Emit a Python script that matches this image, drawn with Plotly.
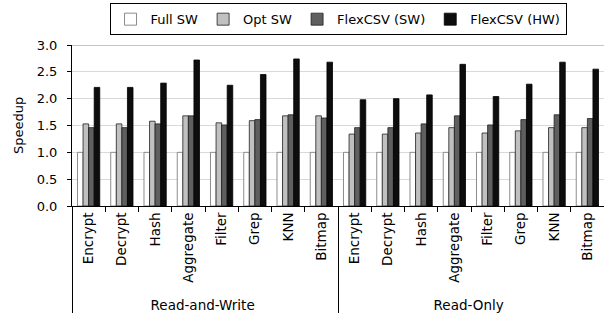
import plotly.graph_objects as go

groups = ["Read-and-Write"] * 8 + ["Read-Only"] * 8
apps = ["Encrypt", "Decrypt", "Hash", "Aggregate", "Filter", "Grep", "KNN", "Bitmap"] * 2

full_sw = [1.0] * 16
opt_sw = [1.53, 1.53, 1.58, 1.68, 1.55, 1.59, 1.68, 1.68,
          1.34, 1.34, 1.36, 1.46, 1.36, 1.40, 1.46, 1.46]
flex_sw = [1.46, 1.46, 1.53, 1.68, 1.51, 1.61, 1.70, 1.64,
           1.46, 1.46, 1.53, 1.68, 1.51, 1.61, 1.70, 1.63]
flex_hw = [2.21, 2.21, 2.29, 2.72, 2.25, 2.45, 2.74, 2.68,
           1.98, 2.00, 2.07, 2.64, 2.04, 2.27, 2.68, 2.55]

series = [("Full SW", full_sw, "#ffffff", "#707070"),
          ("Opt SW", opt_sw, "#c0c0c0", "#202020"),
          ("FlexCSV (SW)", flex_sw, "#5f5f5f", "#202020"),
          ("FlexCSV (HW)", flex_hw, "#0d0d0d", "#000000")]

font = "DejaVu Sans"
fig = go.Figure()
for name, vals, col, lc in series:
    fig.add_trace(go.Bar(x=[groups, apps], y=vals, name=name,
                         marker=dict(color=col, line=dict(color=lc, width=0.8))))

fig.update_layout(
    width=604, height=321,
    margin=dict(l=72, r=0, t=45, b=115, autoexpand=False),
    paper_bgcolor="white", plot_bgcolor="white",
    barmode="group", bargap=0.33, bargroupgap=0.0,
    font=dict(family=font, size=13, color="#000000"),
    legend=dict(orientation="h", x=0.5, xref="paper", xanchor="center",
                y=0.99, yref="container", yanchor="top",
                bordercolor="#000000", borderwidth=1, bgcolor="white",
                font=dict(size=13), itemwidth=30, traceorder="normal",
                tracegroupgap=0),
    showlegend=True,
)
fig.add_shape(type="line", xref="paper", yref="y", x0=0, x1=1, y0=3.0, y1=3.0,
              line=dict(color="#8c8c8c", width=1), layer="below")
fig.update_yaxes(range=[0, 3.0], dtick=0.5, tickformat=".1f",
                 showgrid=True, gridcolor="#d9d9d9", gridwidth=1,
                 showline=True, linecolor="#000000", linewidth=1,
                 ticks="outside", ticklen=4, tickcolor="#000000",
                 ticklabelstandoff=7, automargin=False,
                 title=dict(text="Speedup", font=dict(size=13), standoff=10),
                 zeroline=False)
fig.update_xaxes(type="multicategory", tickangle=-90, automargin=False,
                 showline=True, linecolor="#000000", linewidth=1,
                 showdividers=True, dividercolor="#000000", dividerwidth=1,
                 ticks="outside", tickcolor="#000000",
                 tickfont=dict(size=13.5))
fig.write_html("out.html", config={"displayModeBar": False},
               post_script="document.body.style.margin='0px';")
